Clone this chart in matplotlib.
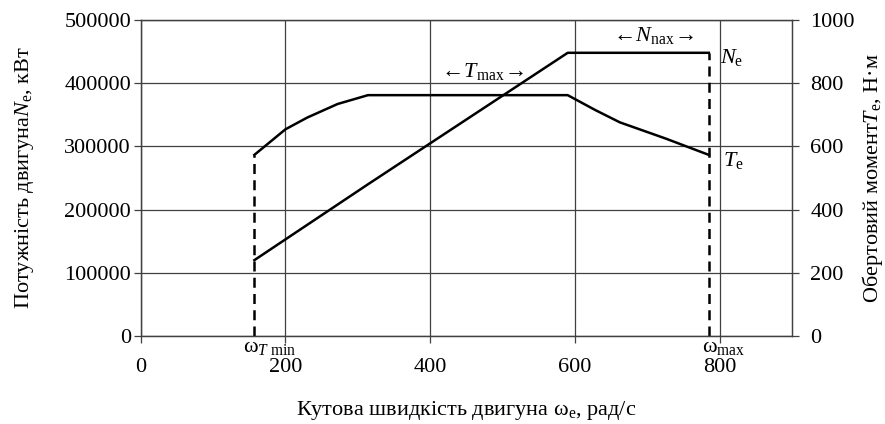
import matplotlib
matplotlib.use('Agg')
import matplotlib.pyplot as plt

plt.rcParams['font.family'] = ['Liberation Serif', 'DejaVu Serif']
plt.rcParams['mathtext.fontset'] = 'custom'
plt.rcParams['mathtext.rm'] = 'Liberation Serif'
plt.rcParams['mathtext.it'] = 'Liberation Serif:italic'
plt.rcParams['mathtext.bf'] = 'Liberation Serif:bold'

# torque curve (right axis, N*m)
omega_T = [157, 200, 230, 272, 314, 590, 628, 662, 725, 785]
torque = [573, 654, 691, 734, 762, 762, 715, 676, 625, 573]

# power curve (left axis, W)
omega_N = [157, 314, 590, 785]
power = [120000, 240000, 448000, 448000]

omega_min = 157
omega_max = 785

x_ticks = [0, 200, 400, 600, 800]
y_ticks_left = [0, 100000, 200000, 300000, 400000, 500000]
y_ticks_right = [0, 200, 400, 600, 800, 1000]

grid_c = '#404040'
fs = 16

fig = plt.figure(figsize=(8.85, 4.24), dpi=100)
ax = fig.add_axes([0.159, 0.2075, 0.736, 0.7455])
ax2 = ax.twinx()

ax.set_xlim(0, 900)
ax.set_ylim(0, 500000)
ax2.set_ylim(0, 1000)
ax.set_xticks(x_ticks)
ax.set_yticks(y_ticks_left)
ax2.set_yticks(y_ticks_right)
ax.grid(True, color=grid_c, lw=0.9)

for a in (ax, ax2):
    for s in a.spines.values():
        s.set_color(grid_c)
        s.set_linewidth(0.9)
ax.tick_params(axis='both', labelsize=fs, color=grid_c, length=5, width=0.9)
ax.tick_params(axis='x', pad=11)
ax.tick_params(axis='y', pad=2)
ax2.tick_params(axis='y', labelsize=fs, color=grid_c, length=5, width=0.9, pad=8)

ax.plot(omega_N, power, color='black', lw=1.8, solid_joinstyle='round')
ax2.plot(omega_T, torque, color='black', lw=1.8, solid_joinstyle='round')

# dashed limits
ax2.plot([omega_min, omega_min], [0, torque[0]], color='black', lw=1.8, ls=(0, (4, 2.5)))
ax.plot([omega_max, omega_max], [0, power[-1]], color='black', lw=1.8, ls=(0, (4, 2.5)))

ax.set_xlabel('Кутова швидкість двигуна ω$_\\mathrm{e}$, рад/с', fontsize=fs, labelpad=16)
ax.set_ylabel('Потужність двигуна$\\mathit{N}_\\mathrm{e}$, кВт', fontsize=fs, labelpad=20)
ax2.set_ylabel('Обертовий момент$\\mathit{T}_\\mathrm{e}$, Н·м', fontsize=fs, labelpad=4)

arrow_kw = dict(fontsize=fs, ha='center', va='center')
ax.text(470, 418000, '$\\leftarrow\\!\\mathit{T}_\\mathrm{max}\\!\\rightarrow$', **arrow_kw)
ax.text(706, 476000, '$\\leftarrow\\!\\mathit{N}_\\mathrm{nax}\\!\\rightarrow$', **arrow_kw)
ax.text(800, 440000, '$\\mathit{N}_\\mathrm{e}$', fontsize=fs, ha='left', va='center')
ax.text(805, 278000, '$\\mathit{T}_\\mathrm{e}$', fontsize=fs, ha='left', va='center')
ax.text(142, -3000, 'ω$_{\\mathit{T}\\ \\mathrm{min}}$', fontsize=fs, ha='left', va='top')
ax.text(775, -3000, 'ω$_\\mathrm{max}$', fontsize=fs, ha='left', va='top')

fig.savefig('out.png', dpi=100)
